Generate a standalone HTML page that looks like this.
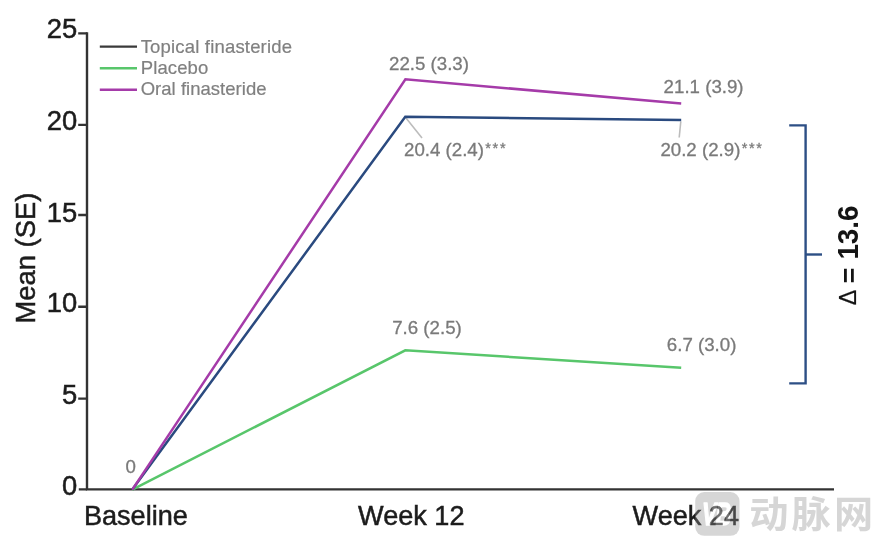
<!DOCTYPE html>
<html lang="en">
<head>
<meta charset="utf-8">
<title>Mean (SE) chart</title>
<style>
html,body{margin:0;padding:0;background:#fff;}
body{width:881px;height:546px;overflow:hidden;position:relative;font-family:"Liberation Sans","Noto Sans CJK SC",sans-serif;}
svg{position:absolute;left:0;top:0;display:block;filter:blur(0.65px);}
text{font-family:"Liberation Sans","Noto Sans CJK SC",sans-serif;}
.ax{font-size:27.4px;fill:#1c1c1c;stroke:#1c1c1c;stroke-width:0.5px;}
.lb{font-size:18.7px;fill:#7a7a7a;stroke:#7a7a7a;stroke-width:0.3px;}
.lg{font-size:18.5px;fill:#808080;stroke:#808080;stroke-width:0.2px;}
.st{font-size:14.5px;letter-spacing:1.66px;}
</style>
</head>
<body>
<svg width="881" height="546" viewBox="0 0 881 546">
  <rect width="881" height="546" fill="#ffffff"/>
  <!-- axes -->
  <g stroke="#333333" stroke-width="2.4" fill="none">
    <path d="M87 32.2 V489.4 H834"/>
    <path d="M78.2 33.4 H87 M78.2 124.9 H87 M78.2 215 H87 M78.2 306.8 H87 M78.2 398.6 H87 M78.8 489.4 H87"/>
  </g>
  <!-- y tick labels -->
  <g class="ax" text-anchor="end">
    <text x="77.2" y="37.5">25</text>
    <text x="77.2" y="129.8">20</text>
    <text x="77.2" y="221.5">15</text>
    <text x="77.2" y="311.5">10</text>
    <text x="77.2" y="403.6">5</text>
    <text x="77.2" y="495.2">0</text>
  </g>
  <text class="ax" transform="translate(35.2,323.6) rotate(-90)">Mean (SE)</text>
  <!-- x labels -->
  <g class="ax" text-anchor="middle" style="font-size:27.1px">
    <text x="135.9" y="525.2">Baseline</text>
    <text x="411.3" y="525.1">Week 12</text>
  </g>
  <!-- legend -->
  <g stroke-width="2.4" fill="none">
    <path d="M99.8 46.6 H137" stroke="#3a3a3a"/>
    <path d="M99.8 68.2 H137" stroke="#58c66b"/>
    <path d="M99.8 89.7 H137" stroke="#a53ba9"/>
  </g>
  <g class="lg">
    <text x="140.7" y="52.6" textLength="151.3" lengthAdjust="spacing">Topical finasteride</text>
    <text x="140.7" y="73.6" textLength="67.6" lengthAdjust="spacing">Placebo</text>
    <text x="140.7" y="95.3" textLength="125.8" lengthAdjust="spacing">Oral finasteride</text>
  </g>
  <!-- leader lines -->
  <g stroke="#bcbcbc" stroke-width="1.6" fill="none">
    <path d="M406 118 L422 138"/>
    <path d="M680.8 121.5 L679.2 137.5"/>
  </g>
  <!-- data lines -->
  <g fill="none" stroke-width="2.5" stroke-linejoin="miter">
    <path d="M132.3 489.6 L405.3 350.3 L681.2 367.8" stroke="#58c66b"/>
    <path d="M132.3 489.6 L405.3 116.8 L681.2 120" stroke="#2a4a7f"/>
    <path d="M132.3 489.6 L405.4 79.3 L681.2 103.5" stroke="#a53ba9"/>
  </g>
  <!-- data labels -->
  <g class="lb">
    <text x="125.6" y="473.3">0</text>
    <text x="389" y="70.2">22.5 (3.3)</text>
    <text x="404" y="156">20.4 (2.4)<tspan class="st" dx="1.3" dy="-2.8">***</tspan></text>
    <text x="392.2" y="334.3">7.6 (2.5)</text>
    <text x="663.6" y="92.6">21.1 (3.9)</text>
    <text x="660.4" y="156.2">20.2 (2.9)<tspan class="st" dx="1.3" dy="-2.8">***</tspan></text>
    <text x="666.8" y="351.3">6.7 (3.0)</text>
  </g>
  <!-- bracket -->
  <g stroke="#2d4f85" stroke-width="2.4" fill="none">
    <path d="M789.2 125.4 H805.6 V383.4 H789.2"/>
    <path d="M805.6 254.5 H822"/>
  </g>
  <g fill="#141414">
    <text transform="translate(855.6,305.2) rotate(-90)" font-size="23.2" stroke="#141414" stroke-width="0.2">Δ</text>
    <text transform="translate(858,283.3) rotate(-90)" font-size="26.6" font-weight="bold">=</text>
    <text transform="translate(857.6,259.6) rotate(-90) scale(0.96,1)" font-size="28.9" font-weight="bold">13.6</text>
  </g>
  <text class="ax" style="font-size:27.1px" text-anchor="middle" x="685.8" y="525.1">Week 24</text>
  <!-- watermark overlay -->
  <g opacity="0.36">
    <rect x="695.2" y="492" width="44.3" height="43.8" rx="9" fill="#909090"/>
    <text transform="translate(702.2,525) scale(0.66,1)" font-size="32" font-weight="bold" font-style="italic" fill="#ffffff" stroke="#ffffff" stroke-width="1.6" stroke-linejoin="round" letter-spacing="-1">VB</text>
    <text transform="translate(749.2,527.7) scale(1.06,1)" font-size="37" font-weight="bold" fill="#909090" letter-spacing="3">动脉网</text>
  </g>
</svg>
</body>
</html>
